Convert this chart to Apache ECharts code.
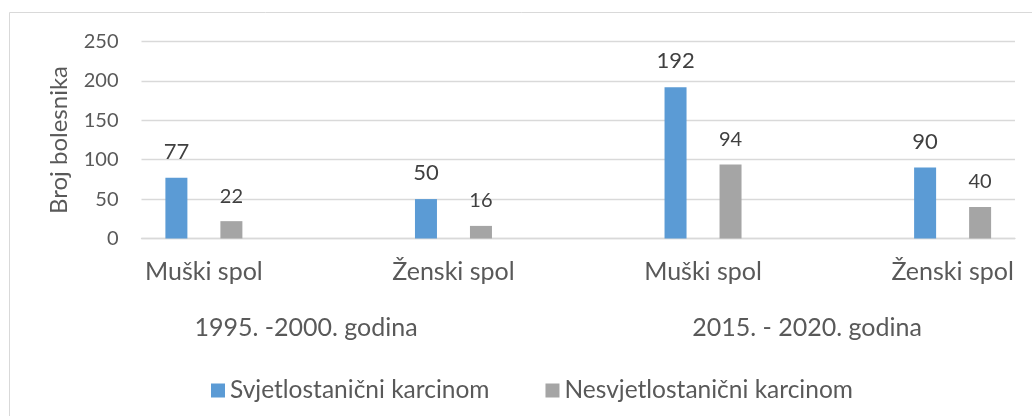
<!DOCTYPE html>
<html>
<head>
<meta charset="utf-8">
<script src="https://cdn.jsdelivr.net/npm/echarts@6/dist/echarts.min.js"></script>
<style>
html,body{margin:0;padding:0;background:#fff;}
#c{width:1032px;height:416px;}
</style>
</head>
<body>
<div id="c"></div>
<script>
const categories = ['Muški spol', 'Ženski spol', 'Muški spol', 'Ženski spol'];
const periods = ['1995. -2000. godina', '2015. - 2020. godina'];
const seriesNames = ['Svjetlostanični karcinom', 'Nesvjetlostanični karcinom'];
const svjetlo = [77, 50, 192, 90];
const nesvjetlo = [22, 16, 94, 40];
const yTicks = [0, 50, 100, 150, 200, 250];

// Interleave blank slots between categories (Excel layout spacing)
function spread(arr, blank) {
  const out = [];
  arr.forEach((v, i) => { out.push(v); if (i < arr.length - 1) out.push(blank); });
  return out;
}
const axisCats = spread(categories, '');
const s1 = spread(svjetlo, '-');
const s2 = spread(nesvjetlo, '-');

const FONT = 'Lato';
const TXT = '#595959';
const chart = echarts.init(document.getElementById('c'), null, {renderer: 'canvas'});
chart.setOption({
  animation: false,
  backgroundColor: '#fff',
  textStyle: {fontFamily: FONT, color: TXT},
  grid: {left: 141.5, right: 17, top: 41.5, bottom: 177.5, containLabel: false},
  xAxis: {
    type: 'category',
    data: axisCats,
    axisTick: {show: false},
    axisLine: {lineStyle: {color: '#d9d9d9', width: 1.3}},
    axisLabel: {interval: 0, color: TXT, fontFamily: FONT, fontSize: 25, margin: 21}
  },
  yAxis: {
    type: 'value',
    min: yTicks[0],
    max: yTicks[yTicks.length - 1],
    interval: 50,
    name: 'Broj bolesnika',
    nameLocation: 'middle',
    nameRotate: 90,
    nameGap: 70,
    nameTextStyle: {fontFamily: FONT, fontSize: 24, color: TXT},
    axisLine: {show: false},
    axisTick: {show: false},
    axisLabel: {color: TXT, fontFamily: FONT, fontSize: 20, margin: 23},
    splitLine: {lineStyle: {color: '#d9d9d9', width: 1.3}}
  },
  legend: {
    left: 206,
    top: 373,
    itemWidth: 14,
    itemHeight: 14,
    itemGap: 56,
    icon: 'rect',
    textStyle: {fontFamily: FONT, fontSize: 24.5, color: TXT},
    data: seriesNames
  },
  series: [
    {
      name: seriesNames[0], type: 'bar', data: s1, barWidth: 22, barGap: '150%',
      itemStyle: {color: '#5B9BD5'},
      label: {show: true, position: 'top', distance: 15, fontFamily: FONT, fontSize: 22, color: '#404040'}
    },
    {
      name: seriesNames[1], type: 'bar', data: s2, barWidth: 22, barGap: '150%',
      itemStyle: {color: '#A5A5A5'},
      label: {show: true, position: 'top', distance: 15, fontFamily: FONT, fontSize: 20, color: '#404040'}
    }
  ],
  graphic: [
    {type: 'rect', shape: {x: 9.5, y: 12.5, width: 1040, height: 420}, style: {fill: 'none', stroke: '#d9d9d9', lineWidth: 1}, z: -1},
    {type: 'text', x: 306, y: 328, style: {text: periods[0], fontFamily: FONT, fontSize: 25, fill: TXT, textAlign: 'center', textVerticalAlign: 'middle'}},
    {type: 'text', x: 807, y: 328, style: {text: periods[1], fontFamily: FONT, fontSize: 25, fill: TXT, textAlign: 'center', textVerticalAlign: 'middle'}}
  ]
});
</script>
</body>
</html>
